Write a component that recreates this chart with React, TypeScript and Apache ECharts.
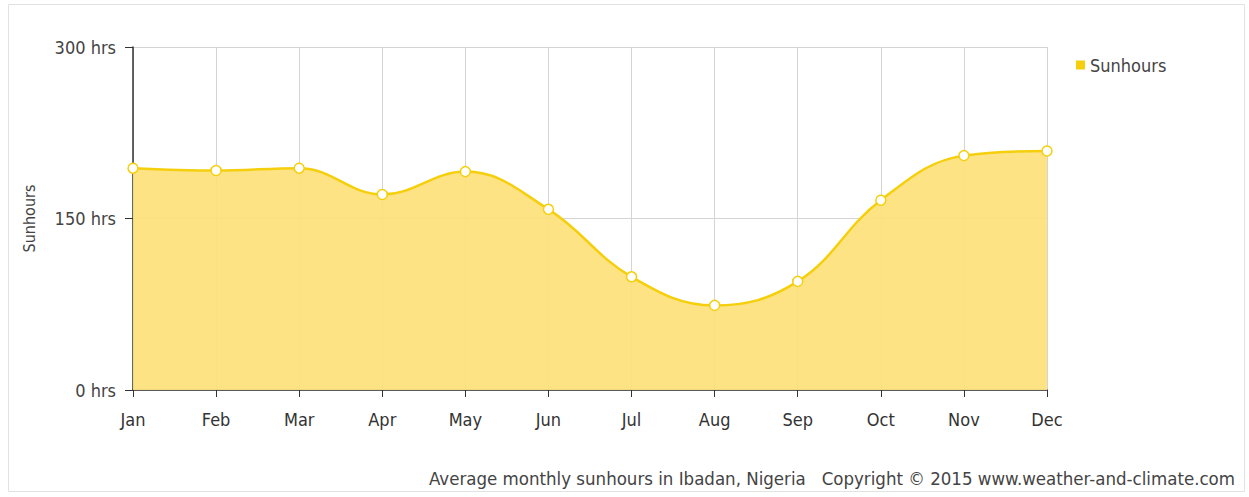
import React, { useEffect, useRef } from "react";
import * as echarts from "echarts";

const months = ["Jan", "Feb", "Mar", "Apr", "May", "Jun", "Jul", "Aug", "Sep", "Oct", "Nov", "Dec"];
const sunhours = [194, 192, 194, 171, 191, 158, 99, 74, 95, 166, 205, 209];
const seriesName = "Sunhours";
const yTicks = [0, 150, 300];
const caption = "Average monthly sunhours in Ibadan, Nigeria   Copyright © 2015 www.weather-and-climate.com";

const FONT = "'DejaVu Sans Condensed', 'Liberation Sans Narrow', 'DejaVu Sans', sans-serif";

export default function App() {
  const ref = useRef<HTMLDivElement>(null);
  useEffect(() => {
    if (!ref.current) return;
    const chart = echarts.init(ref.current, undefined, { renderer: "svg" });
    chart.setOption({
      animation: false,
      backgroundColor: "#ffffff",
      textStyle: { fontFamily: FONT },
      grid: { left: 133, right: 202, top: 47, bottom: 107 },
      legend: {
        data: [seriesName],
        left: 1071,
        top: 51,
        icon: "rect",
        itemWidth: 9,
        itemHeight: 9,
        itemGap: 8,
        itemStyle: { color: "#f5cf0c", borderWidth: 0 },
        textStyle: { fontFamily: FONT, fontSize: 18, color: "#444" },
      },
      xAxis: {
        type: "category",
        data: months,
        boundaryGap: false,
        axisLine: { lineStyle: { color: "#333", width: 1.5 } },
        axisTick: { alignWithLabel: true, length: 7, lineStyle: { color: "#333" } },
        axisLabel: { color: "#333", fontSize: 18, fontFamily: FONT, margin: 20 },
        splitLine: { show: true, lineStyle: { color: "#d4d4d4", width: 1 } },
      },
      yAxis: {
        type: "value",
        min: yTicks[0],
        max: yTicks[yTicks.length - 1],
        interval: 150,
        name: "Sunhours",
        nameLocation: "middle",
        nameGap: 96,
        nameRotate: 90,
        nameTextStyle: { color: "#444", fontSize: 16, fontFamily: FONT },
        axisLine: { show: true, lineStyle: { color: "#333", width: 1.5 } },
        axisTick: { show: true, length: 8, lineStyle: { color: "#333" } },
        axisLabel: { color: "#444", fontSize: 18, fontFamily: FONT, margin: 17, formatter: (v: number) => `${v} hrs` },
        splitLine: { show: true, lineStyle: { color: "#d4d4d4", width: 1 } },
      },
      series: [
        {
          name: seriesName,
          type: "line",
          data: sunhours,
          smooth: 0.4,
          symbol: "circle",
          symbolSize: 10,
          itemStyle: { color: "#ffffff", borderColor: "#f5cf0c", borderWidth: 1.5 },
          lineStyle: { color: "#f5cf0c", width: 2.5 },
          areaStyle: { color: "#fee17c", opacity: 0.93, origin: "start" },
          z: 3,
        },
      ],
      graphic: [
        {
          type: "rect",
          shape: { x: 8.5, y: 4.5, width: 1236, height: 487 },
          style: { fill: "none", stroke: "#e2e2e2", lineWidth: 1 },
          silent: true,
          z: -1,
        },
        {
          type: "text",
          right: 14,
          top: 469,
          style: { text: caption, fontFamily: FONT, fontSize: 18.5, fill: "#444" },
        },
      ],
    });
    return () => chart.dispose();
  }, []);
  return <div ref={ref} style={{ position: "fixed", left: 0, top: 0, width: 1249, height: 497 }} />;
}
